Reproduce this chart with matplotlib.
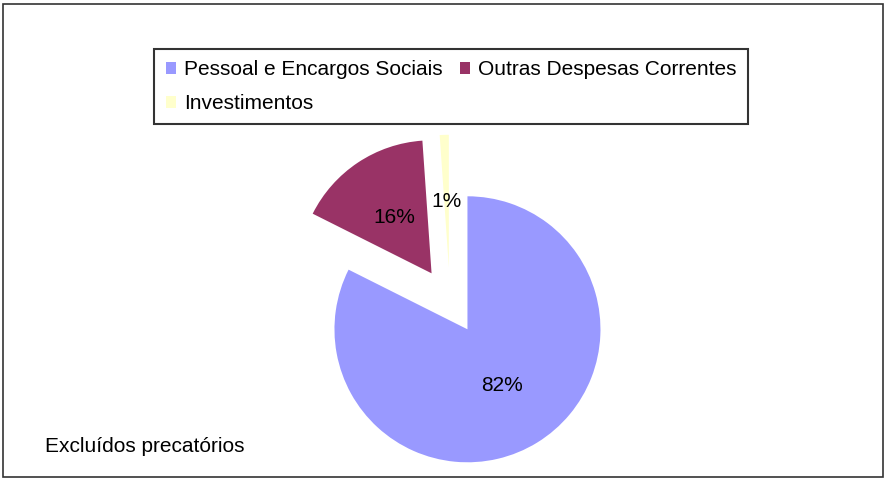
import matplotlib
matplotlib.use('Agg')
import matplotlib.pyplot as plt
from matplotlib.patches import Rectangle

plt.rcParams['font.family'] = ['Liberation Sans', 'DejaVu Sans']

categorias = ['Pessoal e Encargos Sociais', 'Outras Despesas Correntes', 'Investimentos']
valores = [82.4, 16.5, 1.1]
cores = ['#9999FF', '#993366', '#FFFFCC']
nota = 'Excluídos precatórios'

W, H = 885, 479
R = 133
fig = plt.figure(figsize=(W / 100, H / 100), dpi=100)
ax = fig.add_axes([0, 0, 1, 1])

# explode é em unidades absolutas, não fração do raio
wedges, texts, pcts = ax.pie(valores, colors=cores, explode=[0.25 * R] * 3,
                             startangle=90, counterclock=False,
                             center=(450, H - 301), radius=R,
                             autopct='%.0f%%', pctdistance=0.5,
                             textprops={'fontsize': 15, 'color': 'black'},
                             wedgeprops={'linewidth': 0})
ax.set_xlim(0, W)
ax.set_ylim(0, H)
ax.set_aspect('equal')
ax.axis('off')

# legenda em linhas: reordena para preencher por colunas
ordem = [0, 2, 1]
leg = fig.legend([wedges[i] for i in ordem], [categorias[i] for i in ordem],
                 ncol=2, loc='center', bbox_to_anchor=(0.510, 0.819),
                 fontsize=15, fancybox=False, frameon=True,
                 handlelength=0.5, handleheight=0.5, handletextpad=0.4,
                 columnspacing=0.8, labelspacing=0.7, borderpad=0.55,
                 borderaxespad=0)
leg.get_frame().set_edgecolor('black')
leg.get_frame().set_linewidth(1.5)

fig.text(45 / W, 1 - 446 / H, nota, fontsize=15, va='center', ha='left')

fig.patches.append(Rectangle((3 / W, 2 / H), 880 / W, 473 / H,
                             transform=fig.transFigure, fill=False,
                             edgecolor='#333333', linewidth=1.2))

fig.savefig('out.png', dpi=100)
